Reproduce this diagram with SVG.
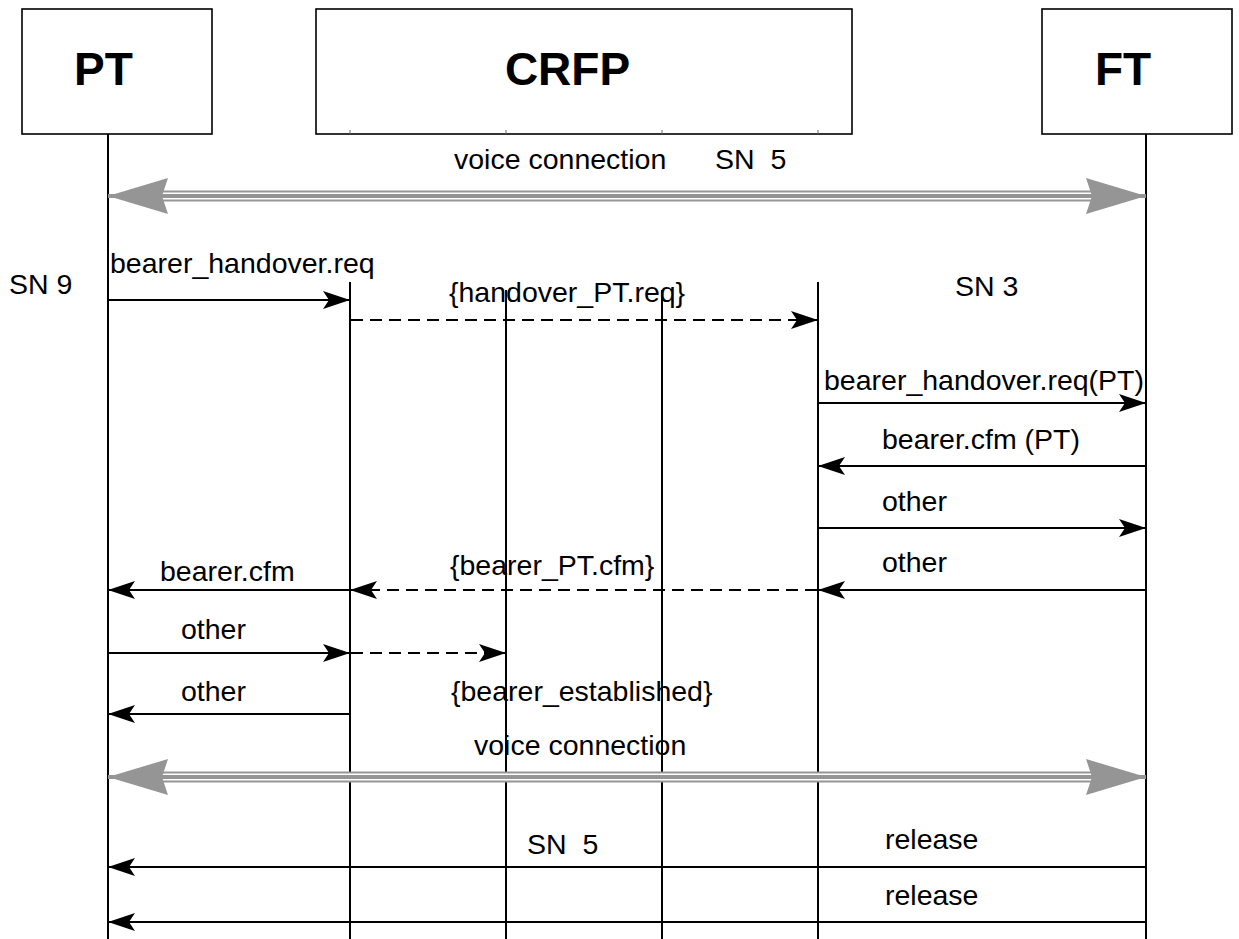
<svg xmlns="http://www.w3.org/2000/svg" width="1239" height="939" viewBox="0 0 1239 939">
<style>
.box{fill:#fff;stroke:#000;stroke-width:1.6}
.title{font-family:"Liberation Sans",Arial,sans-serif;font-weight:bold;font-size:46px;fill:#000;text-anchor:middle}
.lbl{font-family:"Liberation Sans",Arial,sans-serif;font-size:28.5px;fill:#000;white-space:pre}
.life{stroke:#000;stroke-width:2;fill:none}
.tick{stroke:#666;stroke-width:1}
.msg{stroke:#000;stroke-width:2;fill:none;marker-end:url(#ah)}
.dash{stroke:#000;stroke-width:2;fill:none;stroke-dasharray:12 7;marker-end:url(#ah)}
.v1{stroke:#959595;stroke-width:11;fill:none}
.v2{stroke:#fff;stroke-width:7;fill:none}
.v3{stroke:#959595;stroke-width:4;fill:none;marker-start:url(#gh);marker-end:url(#gh)}
</style>
<defs>
<marker id="ah" viewBox="-28 -10 30 20" refX="0" refY="0" markerWidth="30" markerHeight="20" markerUnits="userSpaceOnUse" orient="auto">
<path d="M0,0 L-27,-9 L-21,0 L-27,9 Z" fill="#000"/>
</marker>
<marker id="gh" viewBox="-62 -20 64 40" refX="0" refY="0" markerWidth="64" markerHeight="40" markerUnits="userSpaceOnUse" orient="auto-start-reverse">
<path d="M0,0 L-60,-18 L-54,0 L-60,18 Z" fill="#959595"/>
</marker>
</defs>
<rect width="1239" height="939" fill="#fff"/>

<g id="lifelines">
<line class="life" x1="108" y1="134" x2="108" y2="939"/>
<line class="life" x1="1146" y1="134" x2="1146" y2="939"/>
<line class="life" x1="350" y1="282" x2="350" y2="939"/>
<line class="life" x1="506" y1="290" x2="506" y2="939"/>
<line class="life" x1="662" y1="290" x2="662" y2="939"/>
<line class="life" x1="818" y1="282" x2="818" y2="939"/>
</g>

<g id="node-PT">
<rect class="box" x="22" y="9" width="190" height="125"/>
<text class="title" x="103.5" y="85">PT</text>
</g>
<g id="node-CRFP">
<rect class="box" x="316" y="9" width="536" height="125"/>
<text class="title" x="567.5" y="85">CRFP</text>
<line class="tick" x1="350" y1="130" x2="350" y2="134"/>
<line class="tick" x1="506" y1="130" x2="506" y2="134"/>
<line class="tick" x1="662" y1="130" x2="662" y2="134"/>
<line class="tick" x1="818" y1="130" x2="818" y2="134"/>
</g>
<g id="node-FT">
<rect class="box" x="1042" y="9" width="190" height="125"/>
<text class="title" x="1123" y="85">FT</text>
</g>

<g id="connectors">
<path class="v1" d="M162,196 H1092"/>
<path class="v2" d="M162,196 H1092"/>
<path class="v3" d="M108,196 H1146"/>

<path class="msg" d="M108,300 H350"/>
<path class="dash" d="M351,320 H818"/>
<path class="msg" d="M818,403 H1146"/>
<path class="msg" d="M1146,466 H818"/>
<path class="msg" d="M818,528 H1146"/>
<path class="msg" d="M1146,590 H818"/>
<path class="dash" d="M817,590 H350"/>
<path class="msg" d="M350,590 H108"/>
<path class="msg" d="M108,653 H350"/>
<path class="dash" d="M351,653 H506"/>
<path class="msg" d="M350,714 H108"/>

<path class="v1" d="M162,777 H1092"/>
<path class="v2" d="M162,777 H1092"/>
<path class="v3" d="M108,777 H1146"/>

<path class="msg" d="M1146,867 H108"/>
<path class="msg" d="M1146,922 H108"/>
</g>

<g id="labels">
<text class="lbl" x="454" y="169">voice connection</text>
<text class="lbl" x="715" y="169">SN  5</text>
<text class="lbl" x="9" y="294">SN 9</text>
<text class="lbl" x="110" y="273">bearer_handover.req</text>
<text class="lbl" x="449" y="302">{handover_PT.req}</text>
<text class="lbl" x="955" y="296">SN 3</text>
<text class="lbl" x="824" y="390">bearer_handover.req(PT)</text>
<text class="lbl" x="882" y="449">bearer.cfm (PT)</text>
<text class="lbl" x="882" y="511">other</text>
<text class="lbl" x="882" y="572">other</text>
<text class="lbl" x="450" y="575">{bearer_PT.cfm}</text>
<text class="lbl" x="160" y="581">bearer.cfm</text>
<text class="lbl" x="181" y="639">other</text>
<text class="lbl" x="181" y="701">other</text>
<text class="lbl" x="451" y="701">{bearer_established}</text>
<text class="lbl" x="474" y="755">voice connection</text>
<text class="lbl" x="527" y="854">SN  5</text>
<text class="lbl" x="885" y="849">release</text>
<text class="lbl" x="885" y="905">release</text>
</g>
</svg>
